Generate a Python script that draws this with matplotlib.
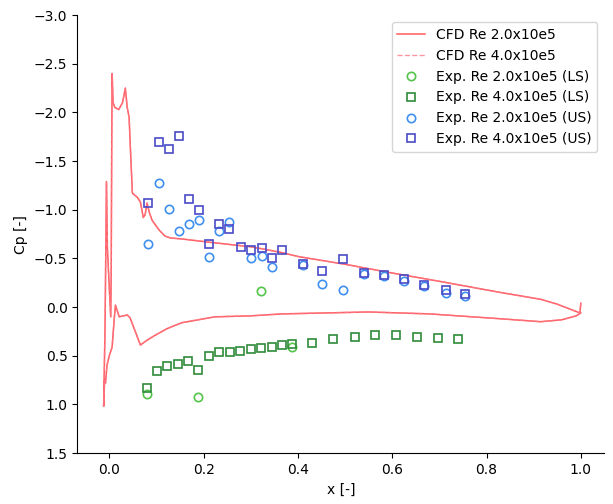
import matplotlib
matplotlib.use("Agg")
import matplotlib.pyplot as plt

# CFD pressure distribution, traced around the airfoil:
# trailing edge -> suction side -> leading edge -> pressure side -> trailing edge
cfd_x = [1.000, 0.998, 0.950, 0.915, 0.830, 0.700, 0.600, 0.500, 0.400, 0.366,
         0.323, 0.300, 0.224, 0.154, 0.130, 0.118, 0.106, 0.091, 0.085, 0.080,
         0.076, 0.072, 0.066, 0.059, 0.049, 0.045, 0.042, 0.038, 0.034, 0.028,
         0.020, 0.012, 0.008, 0.006, 0.005, 0.004, 0.003, -0.004, -0.006, -0.009,
         -0.012, -0.010, -0.008, -0.005, 0.000, 0.006, 0.010, 0.013, 0.021, 0.030,
         0.038, 0.044, 0.055, 0.066, 0.080, 0.097, 0.123, 0.154, 0.224, 0.300,
         0.366, 0.550, 0.680, 0.830, 0.915, 0.960, 0.990, 1.000]
cfd_cp = [-0.04, 0.06, -0.03, -0.08, -0.15, -0.265, -0.35, -0.44, -0.52, -0.56,
          -0.60, -0.62, -0.66, -0.70, -0.71, -0.73, -0.79, -0.89, -0.97, -1.07,
          -0.95, -0.92, -1.08, -1.13, -1.17, -1.60, -1.95, -2.05, -2.25, -2.10,
          -2.03, -2.05, -2.10, -2.40, -1.50, -0.30, 0.10, -0.60, -1.29, 0.20,
          1.02, 0.75, 0.78, 0.60, 0.50, 0.41, 0.15, -0.02, 0.10, 0.09,
          0.08, 0.11, 0.25, 0.39, 0.34, 0.29, 0.22, 0.16, 0.10, 0.09,
          0.07, 0.05, 0.07, 0.12, 0.15, 0.13, 0.09, 0.06]

# Experimental taps, lower surface (LS)
ls_re2_x = [0.079, 0.188, 0.322, 0.387]
ls_re2_cp = [0.89, 0.92, -0.17, 0.41]

ls_re4_x = [0.079, 0.101, 0.123, 0.145, 0.167, 0.188, 0.211, 0.232, 0.255, 0.278,
            0.300, 0.322, 0.345, 0.366, 0.387, 0.430, 0.475, 0.520, 0.564, 0.607,
            0.652, 0.697, 0.740]
ls_re4_cp = [0.835, 0.66, 0.60, 0.585, 0.555, 0.65, 0.50, 0.465, 0.465, 0.45,
             0.435, 0.425, 0.41, 0.39, 0.38, 0.365, 0.325, 0.305, 0.29, 0.29,
             0.305, 0.32, 0.33]

# Experimental taps, upper surface (US)
us_re2_x = [0.082, 0.105, 0.127, 0.148, 0.168, 0.190, 0.212, 0.233, 0.253, 0.300,
            0.323, 0.345, 0.410, 0.452, 0.496, 0.540, 0.582, 0.625, 0.667, 0.713,
            0.755]
us_re2_cp = [-0.65, -1.27, -1.01, -0.78, -0.85, -0.89, -0.51, -0.78, -0.876, -0.50,
             -0.52, -0.41, -0.43, -0.24, -0.175, -0.345, -0.32, -0.27, -0.22, -0.14,
             -0.11]

us_re4_x = [0.082, 0.105, 0.127, 0.148, 0.168, 0.190, 0.212, 0.233, 0.253, 0.279,
            0.300, 0.323, 0.345, 0.366, 0.410, 0.452, 0.496, 0.540, 0.582, 0.625,
            0.667, 0.713, 0.755]
us_re4_cp = [-1.07, -1.70, -1.62, -1.76, -1.115, -1.00, -0.65, -0.85, -0.80, -0.62,
             -0.585, -0.61, -0.50, -0.585, -0.44, -0.37, -0.49, -0.35, -0.33, -0.29,
             -0.23, -0.18, -0.13]

y_ticks = [-3.0, -2.5, -2.0, -1.5, -1.0, -0.5, 0.0, 0.5, 1.0, 1.5]

fig = plt.figure(figsize=(6.13, 5.04), dpi=100)
ax = fig.add_axes([0.126, 0.101, 0.860, 0.869])

ax.plot(cfd_x, cfd_cp, color="#ff5a5a", lw=1.1, label="CFD Re 2.0x10e5")
ax.plot(cfd_x, cfd_cp, color="#ff7a8a", lw=1.0, ls="--", alpha=0.8,
        label="CFD Re 4.0x10e5")

mk = dict(linestyle="none", markerfacecolor="none", markersize=6, markeredgewidth=1.2)
ax.plot(ls_re2_x, ls_re2_cp, marker="o", color="#55c44a", label="Exp. Re 2.0x10e5 (LS)", **mk)
ax.plot(ls_re4_x, ls_re4_cp, marker="s", color="#2e8b3a", label="Exp. Re 4.0x10e5 (LS)", **mk)
ax.plot(us_re2_x, us_re2_cp, marker="o", color="#3f8ff0", label="Exp. Re 2.0x10e5 (US)", **mk)
ax.plot(us_re4_x, us_re4_cp, marker="s", color="#4a4ac8", label="Exp. Re 4.0x10e5 (US)", **mk)

ax.set_xlim(-0.068, 1.05)
ax.set_ylim(1.5, -3.0)
ax.set_yticks(y_ticks)
ax.set_xlabel("x [-]")
ax.set_ylabel("Cp [-]")
ax.spines["top"].set_visible(False)
ax.spines["right"].set_visible(False)
ax.legend(loc="upper right")

fig.savefig("out.png", dpi=100)
